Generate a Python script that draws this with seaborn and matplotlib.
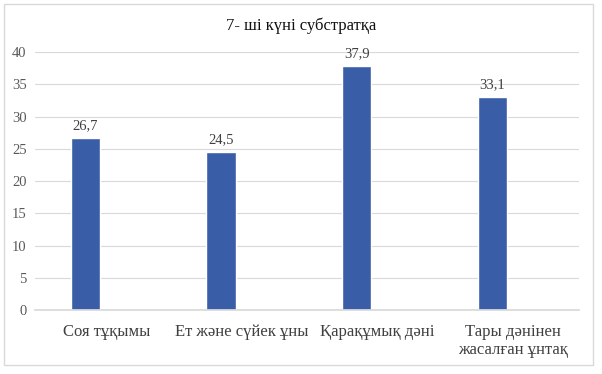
import matplotlib as mpl
mpl.use("Agg")
import matplotlib.pyplot as plt
import matplotlib.transforms as mtransforms
import seaborn as sns
import pandas as pd
from matplotlib.patches import Rectangle

categories = ['Соя тұқымы', 'Ет және сүйек ұны', 'Қарақұмық дәні', 'Тары дәнінен\nжасалған ұнтақ']
values = [26.7, 24.5, 37.9, 33.1]
title = '7- ші күні субстратқа'

sns.set_theme(style='white')
plt.rcParams['font.family'] = ['Liberation Serif', 'DejaVu Serif']

df = pd.DataFrame({'cat': categories, 'val': values})

fig = plt.figure(figsize=(6.02, 3.74), dpi=100)
ax = fig.add_axes([0.0581, 0.171, 0.9037, 0.69])

sns.barplot(data=df, x='cat', y='val', color='#3A5DA8', width=0.215,
            saturation=1, ax=ax)

ax.set_xlim(-0.372, 3.64)
ax.set_ylim(0, 40)
ax.set_yticks(range(0, 41, 5))
ax.yaxis.grid(True, color='#D9D9D9', linewidth=0.8)
ax.set_axisbelow(True)
for s in ['top', 'right', 'left']:
    ax.spines[s].set_visible(False)
ax.spines['bottom'].set_color('#D9D9D9')
ax.set_xlabel('')
ax.set_ylabel('')
ax.tick_params(axis='y', labelsize=10.5, labelcolor='#595959', length=0, pad=6)
ax.tick_params(axis='x', labelsize=12, labelcolor='#404040', length=0, pad=10)

# category labels sit a little to the right of the bars in the original
shift = mtransforms.ScaledTranslation(21 / 100, 0, fig.dpi_scale_trans)
for lbl in ax.get_xticklabels():
    lbl.set_transform(lbl.get_transform() + shift)

for p, v in zip(ax.patches, values):
    ax.annotate(f'{v}'.replace('.', ','), (p.get_x() + p.get_width() / 2, p.get_height()),
                ha='center', va='bottom', xytext=(0, 4), textcoords='offset points',
                fontsize=10.5, color='#404040')

fig.text(0.5, 1 - 26 / 374, title, ha='center', va='center', fontsize=12, color='#111111')

fig.patches.append(Rectangle((4 / 602, 9 / 374), 589 / 602, 361 / 374, transform=fig.transFigure,
                             fill=False, edgecolor='#D9D9D9', linewidth=1))

fig.savefig('out.png', dpi=100)
plt.close(fig)
